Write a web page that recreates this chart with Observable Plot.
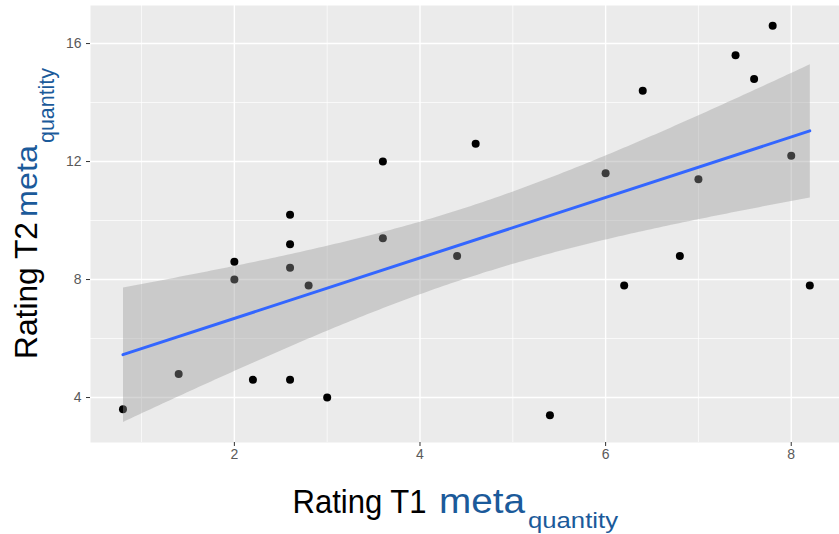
<!DOCTYPE html>
<html>
<head>
<meta charset="utf-8">
<script src="https://cdn.jsdelivr.net/npm/d3@7"></script>
<script src="https://cdn.jsdelivr.net/npm/@observablehq/plot@0.6"></script>
<style>
  html, body { margin: 0; padding: 0; background: #ffffff; }
  #chart { width: 839px; height: 534px; }
</style>
</head>
<body>
<div id="chart"></div>
<script>
// Data
const ratingT1 = [0.8, 1.4, 2.0, 2.0, 2.2, 2.6, 2.6, 2.6, 2.6, 2.8, 3.0, 3.6, 3.6,
                  4.4, 4.6, 5.4, 6.0, 6.2, 6.4, 6.8, 7.0, 7.4, 7.6, 7.8, 8.0, 8.2];
const ratingT2 = [3.6, 4.8, 8.6, 8.0, 4.6, 10.2, 9.2, 8.4, 4.6, 7.8, 4.0, 12.0, 9.4,
                  8.8, 12.6, 3.4, 11.6, 7.8, 14.4, 8.8, 11.4, 15.6, 14.8, 16.6, 12.2, 7.8];
const xMajorTicks = [2, 4, 6, 8];
const xMinorTicks = [1, 3, 5, 7];
const yMajorTicks = [4, 8, 12, 16];
const yMinorTicks = [6, 10, 14];

const data = ratingT1.map((x, i) => ({x, y: ratingT2[i]}));

const plot = Plot.plot({
  width: 839,
  height: 534,
  marginLeft: 90,
  marginRight: 0,
  marginTop: 5,
  marginBottom: 92,
  style: {fontFamily: "'Liberation Sans', Arial, sans-serif", fontSize: "14px", background: "#ffffff"},
  x: {domain: [0.45, 8.52]},
  y: {domain: [2.475, 17.29]},
  marks: [
    Plot.frame({fill: "#ebebeb", stroke: null}),
    Plot.ruleX(xMinorTicks, {stroke: "#ffffff", strokeWidth: 0.7}),
    Plot.ruleY(yMinorTicks, {stroke: "#ffffff", strokeWidth: 0.7}),
    Plot.ruleX(xMajorTicks, {stroke: "#ffffff", strokeWidth: 1.4}),
    Plot.ruleY(yMajorTicks, {stroke: "#ffffff", strokeWidth: 1.4}),
    Plot.dot(data, {x: "x", y: "y", r: 4, fill: "#000000", stroke: null}),
    Plot.linearRegressionY(data, {x: "x", y: "y", stroke: "#3366FF", strokeWidth: 3,
                                  fill: "#999999", fillOpacity: 0.4, ci: 0.95}),
    Plot.axisX({ticks: xMajorTicks, tickSize: 4, tickPadding: 3, stroke: "#333333",
                fill: "#595959", label: null, tickFormat: d3.format("d")}),
    Plot.axisY({ticks: yMajorTicks, tickSize: 4, tickPadding: 5, stroke: "#333333",
                fill: "#595959", label: null, tickFormat: d3.format("d")})
  ]
});

document.getElementById("chart").appendChild(plot);

const svg = d3.select(plot);
const blue = "#1b5a9a";
const fam = "'Liberation Sans', Arial, sans-serif";

function addText(g, str, x, y, size, color, len) {
  g.append("text")
    .attr("x", x).attr("y", y)
    .attr("font-family", fam)
    .attr("font-size", size)
    .attr("fill", color)
    .attr("text-anchor", "start")
    .attr("textLength", len)
    .attr("lengthAdjust", "spacingAndGlyphs")
    .text(str);
}

// x axis title
const gx = svg.append("g");
addText(gx, "Rating T1", 292.5, 513, 34, "#000000", 134);
addText(gx, "meta", 439, 513, 35, blue, 86);
addText(gx, "quantity", 528, 528, 22, blue, 90);

// y axis title (rotated)
const gy = svg.append("g").attr("transform", "rotate(-90)");
addText(gy, "Rating T2", -359, 37, 32, "#000000", 137);
addText(gy, "meta", -217, 37, 30, blue, 72);
addText(gy, "quantity", -143, 54, 22, blue, 75);
</script>
</body>
</html>
